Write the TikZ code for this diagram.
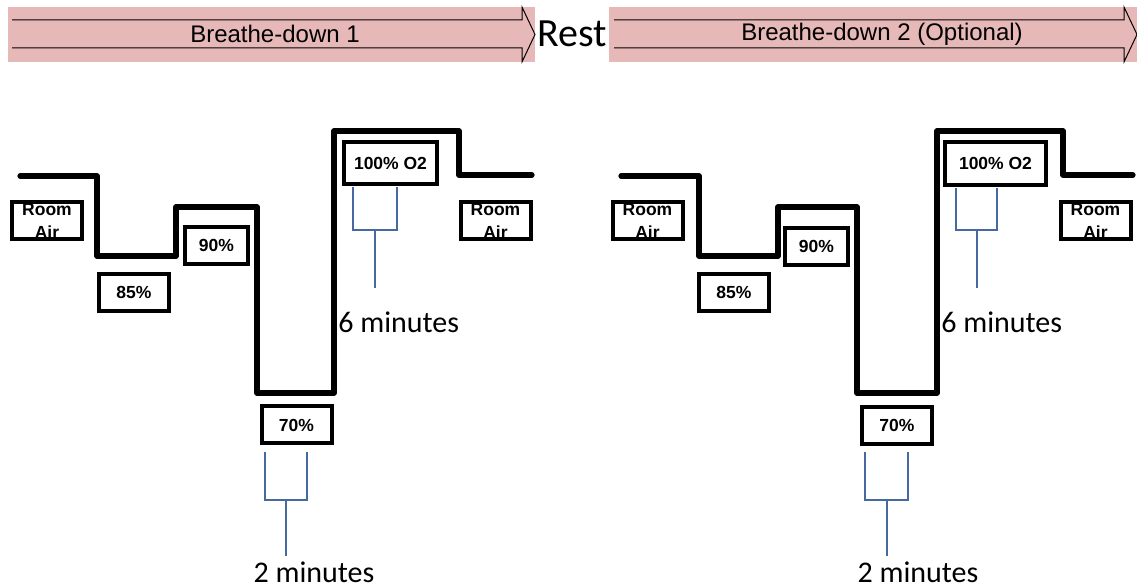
\documentclass[tikz,border=0pt]{standalone}
\usepackage{fontspec}
\setmainfont{Liberation Sans}
\newfontfamily\calibri{Carlito}
\usetikzlibrary{positioning}
\definecolor{bannerpink}{RGB}{230,184,183}
\definecolor{bracketblue}{RGB}{70,105,160}
\tikzstyle{lvl}=[rectangle, draw=black, line width=2pt, fill=white,
  font=\fontsize{8.75}{11.2}\selectfont\bfseries, align=center,
  inner sep=0pt, minimum width=35pt, minimum height=18.5pt]
\tikzstyle{trace}=[line width=2.6pt, line cap=round, line join=round]
\tikzstyle{brk}=[draw=bracketblue, line width=0.6pt]
\tikzstyle{dur}=[font=\calibri\fontsize{15}{18}\selectfont, inner sep=0pt]
\tikzstyle{bantxt}=[font=\fontsize{12}{14}\selectfont, inner sep=0pt]
\tikzstyle{banarr}=[draw=black, line width=0.5pt, line join=miter]

\begin{document}
\begin{tikzpicture}[x=0.5pt, y=-0.5pt]
    \useasboundingbox (0,0) rectangle (1137,587);
    % banners
    \fill[bannerpink] (8,7) rectangle (535,62);
    \fill[bannerpink] (609,7) rectangle (1137,62);
    \draw[banarr] (12,20) -- (522,20) -- (522,7) -- (535,34.5) -- (522,62) -- (522,48) -- (12,48);
    \draw[banarr] (614,20) -- (1124,20) -- (1124,7) -- (1137,34.5) -- (1124,62) -- (1124,48) -- (614,48);
    \node[bantxt] (bd1) at (275,34) {Breathe-down 1};
    \node[bantxt] (bd2) at (882,34) {Breathe-down 2 (Optional)};
    \node[font=\calibri\fontsize{20}{24}\selectfont, inner sep=0pt] (rest) at (572,34) {Rest};

    % first breathe-down
    \draw[trace] (20,176) -- (97,176) -- (97,256) -- (176,256) -- (176,207) -- (257,207)
      -- (257,393) -- (334,393) -- (334,131) -- (459,131) -- (459,175) -- (532,175);
    \node[lvl] (air1) at (47,221) {Room\\Air};
    \node[lvl] (p85a) at (134,292.5) {85\%};
    \node[lvl, minimum width=31.5pt] (p90a) at (216.5,245.5) {90\%};
    \node[lvl] (p70a) at (296.5,425) {70\%};
    \node[lvl, minimum width=46.5pt, minimum height=21pt] (o2a) at (390.5,163) {100\% O2};
    \node[lvl] (air2) at (495.5,221) {Room\\Air};
    \draw[brk] (353,187) |- (397,230) -- (397,187);
    \draw[brk] (375,230) -- (375,288);
    \node[dur, anchor=west] (min6a) at (338,322) {6 minutes};
    \draw[brk] (265,452) |- (307,500) -- (307,452);
    \draw[brk] (286,500) -- (286,556);
    \node[dur] (min2a) at (314,572) {2 minutes};

    % second breathe-down
    \draw[trace] (621,176) -- (699,176) -- (699,256) -- (778,256) -- (778,207) -- (857,207)
      -- (857,393) -- (937,393) -- (937,131) -- (1063,131) -- (1063,175) -- (1133,175);
    \node[lvl] (air3) at (647.5,221) {Room\\Air};
    \node[lvl] (p85b) at (734,292.5) {85\%};
    \node[lvl, minimum width=31.5pt] (p90b) at (816.5,246.5) {90\%};
    \node[lvl] (p70b) at (897,425.5) {70\%};
    \node[lvl, minimum width=50.5pt, minimum height=21.5pt] (o2b) at (995.5,163.5) {100\% O2};
    \node[lvl] (air4) at (1095.5,221) {Room\\Air};
    \draw[brk] (956,188) |- (997,230) -- (997,188);
    \draw[brk] (977,230) -- (977,288);
    \node[dur, anchor=west] (min6b) at (941,322) {6 minutes};
    \draw[brk] (865,452) |- (908,500) -- (908,452);
    \draw[brk] (887,500) -- (887,556);
    \node[dur] (min2b) at (918,572) {2 minutes};
  \end{tikzpicture}
\end{document}
